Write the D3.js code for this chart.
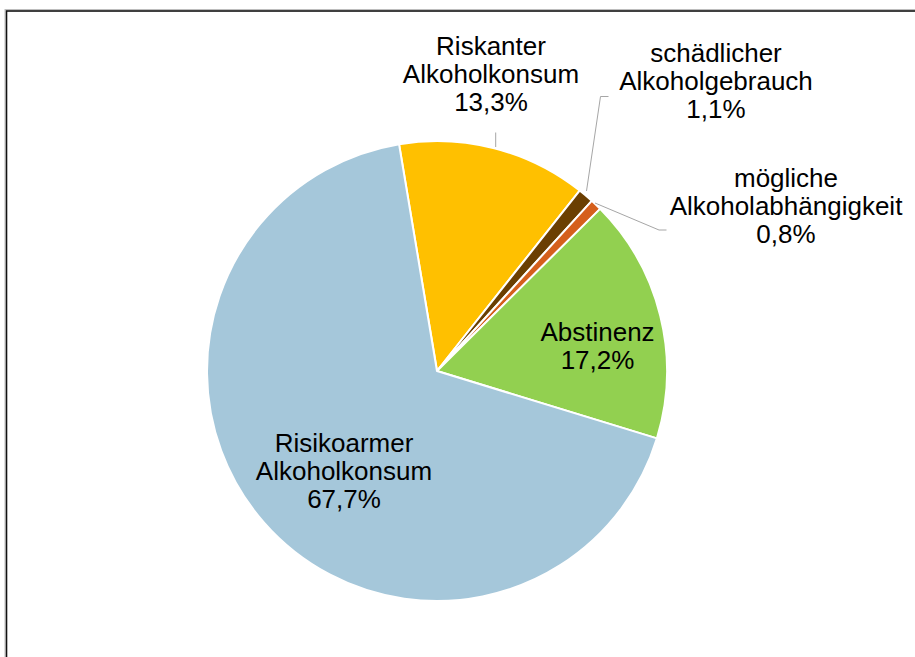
<!DOCTYPE html>
<html>
<head>
<meta charset="utf-8">
<script src="https://cdn.jsdelivr.net/npm/d3@7"></script>
<style>
  html, body { margin: 0; padding: 0; background: #fff; }
  svg { display: block; }
  text { font-family: "Liberation Sans", Arial, sans-serif; fill: #000; }
</style>
</head>
<body>
<svg id="chart" width="915" height="657"></svg>
<script>
// Alkoholkonsum – Anteile der Kategorien
const categories = [
  "Riskanter Alkoholkonsum",
  "schädlicher Alkoholgebrauch",
  "mögliche Alkoholabhängigkeit",
  "Abstinenz",
  "Risikoarmer Alkoholkonsum"
];
const values = [13.3, 1.1, 0.8, 17.2, 67.7];
const labelLines = [
  ["Riskanter", "Alkoholkonsum"],
  ["schädlicher", "Alkoholgebrauch"],
  ["mögliche", "Alkoholabhängigkeit"],
  ["Abstinenz"],
  ["Risikoarmer", "Alkoholkonsum"]
];
const colors = ["#FFC000", "#6B3F02", "#D55F1C", "#92D050", "#A5C7DA"];

// label layout (offsets from the pie centre, first-line baseline) and leader lines
const labelPos = [
  { dx: 54,   dy: -316 },
  { dx: 279,  dy: -309 },
  { dx: 349,  dy: -184.5 },
  { dx: 160.5, dy: -30.5 },
  { dx: -93,  dy: 80.5 }
];
const leaders = [
  [[58.7, -238.5], [58.7, -224]],
  [[171.5, -274.5], [163.5, -274.5], [149.5, -180]],
  [[158, -168], [222, -141], [229.5, -141]],
  null,
  null
];

const svg = d3.select("#chart");
const cx = 437, cy = 371, r = 230;
const fmt = v => d3.format(".1f")(v).replace(".", ",") + "%";

// chart frame
svg.append("rect")
  .attr("x", 5).attr("y", 9.5).attr("width", 930).attr("height", 680)
  .attr("fill", "none").attr("stroke", "#bdbdbd").attr("stroke-width", 1);
svg.append("rect")
  .attr("x", 6.5).attr("y", 11).attr("width", 930).attr("height", 680)
  .attr("fill", "none").attr("stroke", "#111").attr("stroke-width", 1.6);

const pie = d3.pie().sort(null).value(d => d)
  .startAngle(-9.5 * Math.PI / 180)
  .endAngle((360 - 9.5) * Math.PI / 180);
const arcs = pie(values);
const arc = d3.arc().innerRadius(0).outerRadius(r);

const g = svg.append("g").attr("transform", `translate(${cx},${cy})`);

g.selectAll("path.slice")
  .data(arcs)
  .join("path")
  .attr("class", "slice")
  .attr("d", arc)
  .attr("fill", (d, i) => colors[i])
  .attr("stroke", "#fff")
  .attr("stroke-width", 2)
  .attr("stroke-linejoin", "round");

// leader lines
const line = d3.line();
g.selectAll("path.leader")
  .data(leaders.filter(l => l))
  .join("path")
  .attr("class", "leader")
  .attr("d", d => line(d))
  .attr("fill", "none")
  .attr("stroke", "#A6A6A6")
  .attr("stroke-width", 1);

// data labels
const lh = 28.2;
categories.forEach((c, i) => {
  const lines = labelLines[i].concat([fmt(values[i])]);
  const t = g.append("text")
    .attr("text-anchor", "middle")
    .attr("font-size", 26)
    .attr("x", labelPos[i].dx)
    .attr("y", labelPos[i].dy);
  lines.forEach((s, k) => {
    t.append("tspan")
      .attr("x", labelPos[i].dx)
      .attr("dy", k === 0 ? 0 : lh)
      .text(s);
  });
});
</script>
</body>
</html>
